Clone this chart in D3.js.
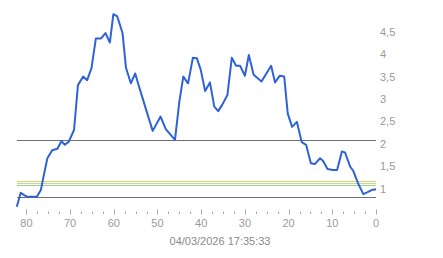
<!DOCTYPE html>
<html><head><meta charset="utf-8">
<script src="https://cdn.jsdelivr.net/npm/d3@7"></script>
<style>
html,body{margin:0;padding:0;background:#fff;}
svg{display:block;font-family:"Liberation Sans",Arial,sans-serif;}
</style></head>
<body>
<svg id="c" width="443" height="258"></svg>
<script>
// minutes ago (x) and values (y)
const minutesAgo = [82.2,81.3,80.5,79.8,77.6,76.7,76.0,75.2,74.1,72.9,72.0,71.2,70.3,69.1,68.2,67.0,66.1,65.1,64.1,62.9,61.9,60.9,60.1,59.2,58.0,57.2,56.1,55.1,54.2,52.5,51.1,49.3,48.1,46.0,45.0,44.1,43.0,41.9,41.0,40.1,39.1,38.0,37.0,36.1,35.2,34.0,33.0,32.0,31.1,30.0,29.1,28.0,26.2,24.0,23.1,22.0,21.0,20.2,19.2,18.1,17.0,16.0,14.9,14.0,12.8,12.1,11.1,9.9,8.9,7.8,7.1,5.9,5.2,4.1,2.9,1.8,1.0,0];
const values = [0.52,0.83,0.78,0.74,0.74,0.89,1.23,1.60,1.78,1.81,1.98,1.90,1.97,2.23,3.23,3.42,3.34,3.61,4.27,4.27,4.39,4.18,4.81,4.76,4.39,3.61,3.27,3.49,3.19,2.65,2.21,2.53,2.25,2.01,2.86,3.42,3.27,3.84,3.83,3.57,3.10,3.29,2.75,2.65,2.79,3.01,3.84,3.66,3.66,3.44,3.90,3.46,3.31,3.66,3.29,3.44,3.42,2.60,2.30,2.41,1.96,1.90,1.49,1.47,1.60,1.54,1.36,1.34,1.34,1.75,1.73,1.41,1.32,1.04,0.80,0.85,0.89,0.91];
const yTicks = [1,1.5,2,2.5,3,3.5,4,4.5];
const xMajorTicks = [80,70,60,50,40,30,20,10,0];
const xMinorTicks = d3.range(0, 82.1, 2.5);
const refLines = [
  {v:2.0, color:"#707070"},
  {v:0.74, color:"#707070"},
  {v:1.10, color:"#e8c870"},
  {v:1.055, color:"#b4dc96"},
  {v:1.01, color:"#9ed486"}
];
const dateLabel = "04/03/2026 17:35:33";

const svg = d3.select("#c");
const x = d3.scaleLinear().domain([82.15, 0]).range([17, 376]);
const y = d3.scaleLinear().domain([0.5, 5]).range([207.6, 5.7]);
const fmt = v => String(v).replace(".", ",");

// reference lines
svg.append("g").selectAll("line").data(refLines).join("line")
  .attr("x1", 17).attr("x2", 376)
  .attr("y1", d => Math.round(y(d.v)) + 0.5).attr("y2", d => Math.round(y(d.v)) + 0.5)
  .attr("stroke", d => d.color).attr("stroke-width", 1);

// x ticks
svg.append("g").selectAll("line").data(xMinorTicks).join("line")
  .attr("x1", d => Math.round(x(d)) + 0.5).attr("x2", d => Math.round(x(d)) + 0.5)
  .attr("y1", 211.5).attr("y2", 214)
  .attr("stroke", "#aaa").attr("stroke-width", 1);
svg.append("g").selectAll("line").data(xMajorTicks).join("line")
  .attr("x1", d => Math.round(x(d)) + 0.5).attr("x2", d => Math.round(x(d)) + 0.5)
  .attr("y1", 209.5).attr("y2", 214.5)
  .attr("stroke", "#aaa").attr("stroke-width", 1);
svg.append("g").selectAll("text").data(xMajorTicks).join("text")
  .attr("x", d => x(d)).attr("y", 227)
  .attr("text-anchor", "middle")
  .attr("font-size", 11).attr("fill", "#9a9a9a")
  .text(d => d);

// y labels
svg.append("g").selectAll("text").data(yTicks).join("text")
  .attr("x", 380).attr("y", d => y(d) + 7.6)
  .attr("font-size", 11).attr("fill", "#9a9a9a")
  .text(fmt);

// date
svg.append("text").attr("x", 220).attr("y", 245)
  .attr("text-anchor", "middle").attr("font-size", 11).attr("fill", "#8a8a8a")
  .text(dateLabel);

// line
const pts = minutesAgo.map((m, i) => [m, values[i]]);
svg.append("path").datum(pts)
  .attr("fill", "none").attr("stroke", "#2f62d6").attr("stroke-width", 2)
  .attr("stroke-linejoin", "round")
  .attr("d", d3.line().x(d => x(d[0])).y(d => y(d[1])));
</script>
</body></html>
